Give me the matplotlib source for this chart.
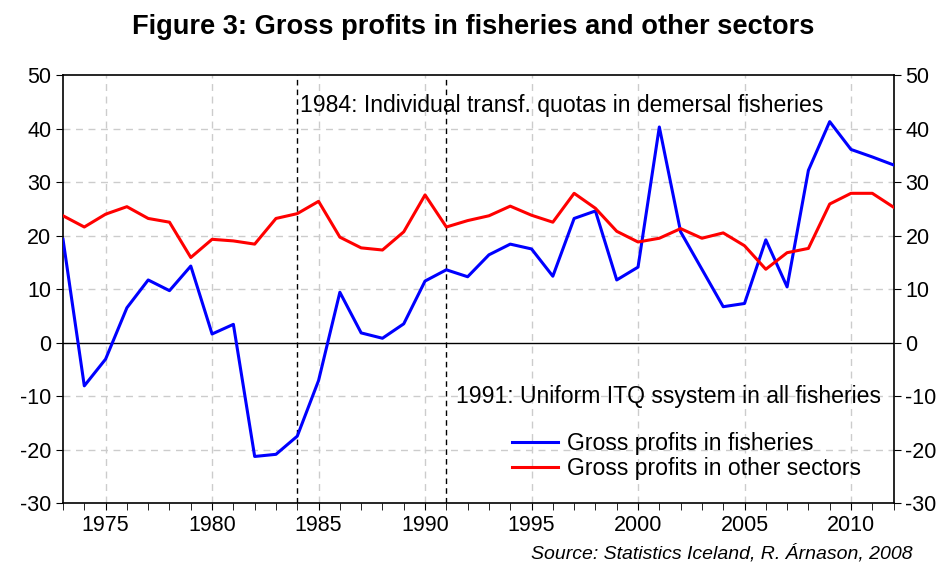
import matplotlib
matplotlib.use('Agg')
import matplotlib.pyplot as plt

plt.rcParams['font.family'] = ['Liberation Sans', 'DejaVu Sans']
plt.rcParams['axes.unicode_minus'] = False

# Data
years = list(range(1973, 2013))
fisheries = [19.3, -8.1, -3.1, 6.5, 11.7, 9.7, 14.3, 1.6, 3.4, -21.3,
             -20.9, -17.5, -7.1, 9.4, 1.8, 0.8, 3.5, 11.5, 13.6, 12.3,
             16.4, 18.4, 17.5, 12.4, 23.2, 24.6, 11.7, 14.1, 40.3, 20.7,
             13.7, 6.7, 7.3, 19.2, 10.4, 32.2, 41.3, 36.1, 34.7, 33.2]
other = [23.7, 21.6, 24.0, 25.4, 23.2, 22.5, 15.9, 19.3, 19.0, 18.4,
         23.2, 24.1, 26.4, 19.7, 17.7, 17.3, 20.7, 27.6, 21.6, 22.8,
         23.7, 25.5, 23.8, 22.5, 27.9, 25.1, 20.8, 18.8, 19.5, 21.3,
         19.5, 20.5, 18.1, 13.7, 16.8, 17.6, 25.9, 27.9, 27.9, 25.3]
events = [1984, 1991]
yticks = [-30, -20, -10, 0, 10, 20, 30, 40, 50]
xticks = [1975, 1980, 1985, 1990, 1995, 2000, 2005, 2010]

fig = plt.figure(figsize=(9.46, 5.69), dpi=100)
ax = fig.add_axes([0.0666, 0.116, 0.878, 0.752])

ax.set_xlim(1973, 2012)
ax.set_ylim(-30, 50)
ax.set_yticks(yticks)
ax.set_xticks(xticks)
ax.set_xticks(years, minor=True)

for y in yticks[1:-1]:
    if y != 0:
        ax.axhline(y, color='#cccccc', lw=1, ls=(0, (5, 4)), zorder=0)
for x in xticks:
    ax.axvline(x, color='#cccccc', lw=1, ls=(0, (5, 4)), zorder=0)
ax.axhline(0, color='black', lw=1, zorder=1)
for x in events:
    ax.axvline(x, color='black', lw=1, ls=(0, (4, 3)), zorder=1)

ax.plot(years, fisheries, color='#0000ff', lw=2.2, label='Gross profits in fisheries', zorder=3)
ax.plot(years, other, color='#ff0000', lw=2.2, label='Gross profits in other sectors', zorder=3)

ax.text(1984.15, 44.4, '1984: Individual transf. quotas in demersal fisheries',
        fontsize=16.6, va='center', ha='left')
ax.text(1991.45, -10, '1991: Uniform ITQ ssystem in all fisheries',
        fontsize=16.6, va='center', ha='left')

leg = ax.legend(loc='upper left', bbox_to_anchor=(0.541, 0.165), frameon=False,
                fontsize=16.6, handlelength=2.0, handletextpad=0.35,
                borderaxespad=0, borderpad=0, labelspacing=0.08)

ax.tick_params(axis='both', which='major', labelsize=15.5, direction='out', length=5)
ax.tick_params(axis='x', which='minor', direction='out', length=5)
ax.tick_params(axis='y', right=True, labelright=True)
for s in ax.spines.values():
    s.set_linewidth(1.2)

fig.text(0.5, 0.952, 'Figure 3: Gross profits in fisheries and other sectors',
         ha='center', va='center', fontsize=19.6, fontweight='bold')
fig.text(0.965, 0.028, 'Source: Statistics Iceland, R. \u00c1rnason, 2008',
         ha='right', va='center', fontsize=14, style='italic')

fig.savefig('out.png', dpi=100)
